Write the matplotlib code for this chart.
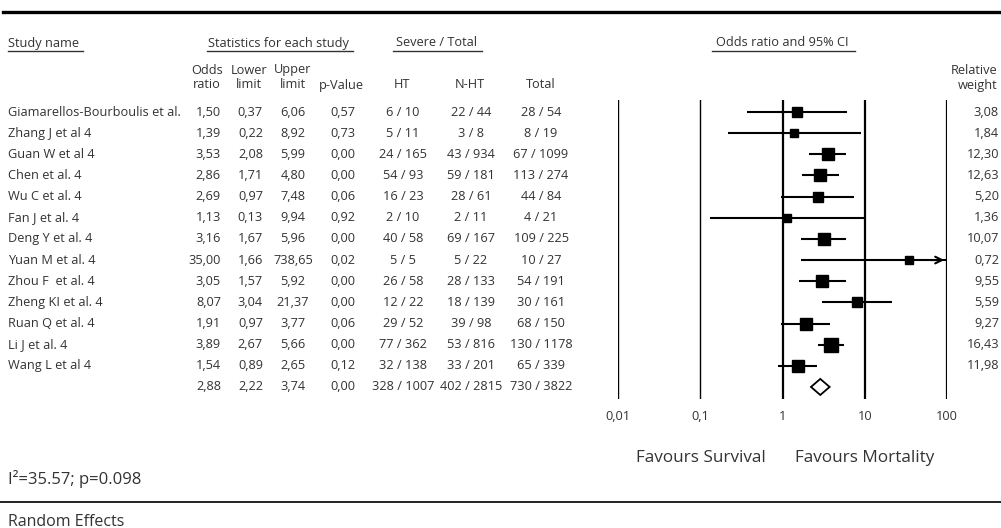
import numpy as np
import matplotlib.pyplot as plt
from matplotlib.patches import Polygon

plt.rcParams['font.family'] = ['Open Sans', 'DejaVu Sans']

studies = ["Giamarellos-Bourboulis et al.", "Zhang J et al 4", "Guan W et al 4", "Chen et al. 4",
           "Wu C et al. 4", "Fan J et al. 4", "Deng Y et al. 4", "Yuan M et al. 4", "Zhou F  et al. 4",
           "Zheng KI et al. 4", "Ruan Q et al. 4", "Li J et al. 4", "Wang L et al 4"]
odds = [1.50, 1.39, 3.53, 2.86, 2.69, 1.13, 3.16, 35.00, 3.05, 8.07, 1.91, 3.89, 1.54]
lower = [0.37, 0.22, 2.08, 1.71, 0.97, 0.13, 1.67, 1.66, 1.57, 3.04, 0.97, 2.67, 0.89]
upper = [6.06, 8.92, 5.99, 4.80, 7.48, 9.94, 5.96, 738.65, 5.92, 21.37, 3.77, 5.66, 2.65]
pval = [0.57, 0.73, 0.00, 0.00, 0.06, 0.92, 0.00, 0.02, 0.00, 0.00, 0.06, 0.00, 0.12]
ht = ["6 / 10", "5 / 11", "24 / 165", "54 / 93", "16 / 23", "2 / 10", "40 / 58", "5 / 5",
      "26 / 58", "12 / 22", "29 / 52", "77 / 362", "32 / 138"]
nht = ["22 / 44", "3 / 8", "43 / 934", "59 / 181", "28 / 61", "2 / 11", "69 / 167", "5 / 22",
       "28 / 133", "18 / 139", "39 / 98", "53 / 816", "33 / 201"]
total = ["28 / 54", "8 / 19", "67 / 1099", "113 / 274", "44 / 84", "4 / 21", "109 / 225", "10 / 27",
         "54 / 191", "30 / 161", "68 / 150", "130 / 1178", "65 / 339"]
weight = [3.08, 1.84, 12.30, 12.63, 5.20, 1.36, 10.07, 0.72, 9.55, 5.59, 9.27, 16.43, 11.98]

pooled = (2.88, 2.22, 3.74, 0.00)
pooled_counts = ("328 / 1007", "402 / 2815", "730 / 3822")
ticks = [0.01, 0.1, 1, 10, 100]
tick_labels = ["0,01", "0,1", "1", "10", "100"]

def fmt(v):
    return f"{v:.2f}".replace(".", ",")

W, H = 1001, 528
fig = plt.figure(figsize=(W / 100, H / 100), dpi=100)
bg = fig.add_axes([0, 0, 1, 1])
bg.set_xlim(0, W)
bg.set_ylim(H, 0)
bg.axis('off')

tc = '#333333'
fs = 9.2
y0, dy = 112, 21.15
n = len(studies)

def txt(x, y, s, ha='center', size=fs, va='center'):
    bg.text(x, y, s, ha=ha, va=va, fontsize=size, color=tc)

# header
bg.plot([3, W], [12, 12], color='black', lw=2.4)
def header(x, y, s, x0, x1):
    txt(x, y, s)
    bg.plot([x0, x1], [y + 8, y + 8], color=tc, lw=1.0)
txt(8, 43, "Study name", ha='left')
bg.plot([8, 83], [51, 51], color=tc, lw=1.0)
header(278, 43, "Statistics for each study", 207, 353)
header(437, 43, "Severe / Total", 393, 482)
header(782, 43, "Odds ratio and 95% CI", 712, 855)

for x, a, b in [(207, "Odds", "ratio"), (249, "Lower", "limit"), (293, "Upper", "limit")]:
    txt(x, 70, a)
    txt(x, 85, b)
for x, s in [(341, "p-Value"), (402, "HT"), (470, "N-HT"), (541, "Total")]:
    txt(x, 85, s)
txt(997, 70, "Relative", ha='right')
txt(997, 85, "weight", ha='right')

# rows
for i in range(n + 1):
    y = y0 + dy * i
    if i < n:
        txt(8, y, studies[i], ha='left')
        vals = (odds[i], lower[i], upper[i], pval[i])
        cnt = (ht[i], nht[i], total[i])
        txt(999, y, fmt(weight[i]), ha='right')
    else:
        vals = pooled
        cnt = pooled_counts
    txt(221, y, fmt(vals[0]), ha='right')
    txt(263, y, fmt(vals[1]), ha='right')
    txt(293, y, fmt(vals[2]))
    txt(343, y, fmt(vals[3]))
    txt(403, y, cnt[0])
    txt(471, y, cnt[1])
    txt(541, y, cnt[2])

# forest plot
top_px, bot_px = 100.4, 398.6
ax = fig.add_axes([618 / W, 1 - bot_px / H, (947 - 618) / W, (bot_px - top_px) / H])
ax.set_xscale('log')
ax.set_xlim(0.01, 100)
ax.set_ylim((bot_px - y0) / dy, (top_px - y0) / dy)
ax.axis('off')
for t in ticks:
    ax.axvline(t, color='black', lw=1.0 if t < 1 else 1.6)
for t, lab in zip(ticks, tick_labels):
    ax.text(t, 14.4, lab, ha='center', va='center', fontsize=fs, color=tc, clip_on=False)

for i in range(n):
    lo, hi = max(lower[i], 0.01), min(upper[i], 100)
    ax.plot([lo, hi], [i, i], color='black', lw=1.5, solid_capstyle='butt')
    if upper[i] > 100:
        ax.annotate("", xy=(100, i), xytext=(60, i),
                    arrowprops=dict(arrowstyle='->', color='black', lw=1.5, mutation_scale=12))
    side = 5.5 + 2 * np.sqrt(weight[i])
    ax.plot(odds[i], i, marker='s', color='black', ms=side * 0.72, ls='none')

est, lo, hi, _ = pooled
dh = 0.38
ax.add_patch(Polygon([(lo, n), (est, n - dh), (hi, n), (est, n + dh)], closed=True,
                     facecolor='white', edgecolor='black', lw=1.3))

txt(701, 458, "Favours Survival", size=12.3)
txt(865, 458, "Favours Mortality", size=12.3)
txt(8, 479, "I²=35.57; p=0.098", ha='left', size=12)
bg.plot([0, W], [502, 502], color='#222222', lw=1.4)
txt(8, 526, "Random Effects", ha='left', va='baseline', size=11.5)

fig.savefig("out.png", dpi=100)
